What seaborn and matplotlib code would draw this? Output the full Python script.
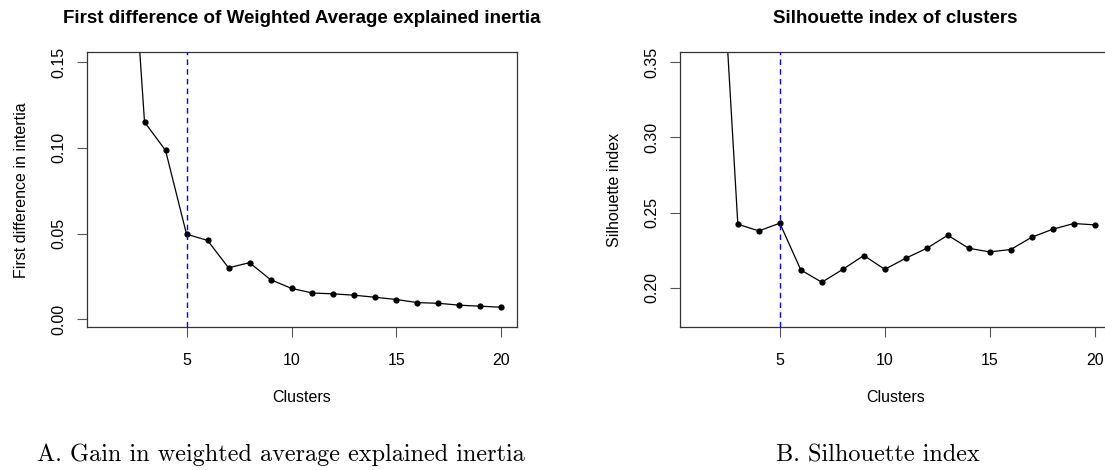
import numpy as np
import pandas as pd
import matplotlib
matplotlib.use("Agg")
import matplotlib.pyplot as plt
import seaborn as sns

# values (k = 2 is above the visible range in both)
clusters = list(range(2, 21))
inertia_diff = [0.296, 0.115, 0.0985, 0.0496, 0.046, 0.030, 0.033, 0.0231, 0.018,
                0.0153, 0.0148, 0.014, 0.0128, 0.0115, 0.0097, 0.0093, 0.0082, 0.0076, 0.007]
silhouette = [0.482, 0.2422, 0.2378, 0.2429, 0.2118, 0.2036, 0.2122, 0.2214, 0.2122,
              0.2196, 0.2262, 0.2349, 0.2262, 0.2238, 0.2254, 0.2336, 0.2389, 0.2427, 0.2418]
best_k = 5

df = pd.DataFrame({'Clusters': clusters, 'inertia': inertia_diff, 'silhouette': silhouette})

sns.set_style('white')
plt.rcParams['font.family'] = ['Liberation Sans', 'DejaVu Sans']
plt.rcParams['text.color'] = 'black'
plt.rcParams['axes.labelcolor'] = 'black'
plt.rcParams['xtick.color'] = 'black'
plt.rcParams['ytick.color'] = 'black'

fig = plt.figure(figsize=(11.05, 4.70), dpi=100)
W, H = 1105, 470
ax1 = fig.add_axes([87 / W, 1 - 327.3 / H, 430 / W, 275 / H])
ax2 = fig.add_axes([680.3 / W, 1 - 327.3 / H, 430 / W, 275 / H])

def r_style(ax, col, title, ylabel, ylim, yticks):
    sns.lineplot(data=df, x='Clusters', y=col, ax=ax, color='black', linewidth=0.9,
                 marker='o', markersize=4.5, markeredgewidth=0, markerfacecolor='black')
    ax.axvline(best_k, color='blue', linestyle=(0, (4, 3)), linewidth=1.0, zorder=3)
    ax.set_xlim(0.26, 20.74)
    ax.set_ylim(*ylim)
    ax.set_xticks([5, 10, 15, 20])
    ax.set_yticks(yticks)
    ax.set_yticklabels([f'{v:.2f}' for v in yticks], rotation=90, va='center')
    ax.tick_params(axis='both', direction='out', length=7.2, width=0.8, color='#555555',
                   labelcolor='black', labelsize=11.5, left=True, bottom=True)
    ax.tick_params(axis='x', pad=11)
    ax.tick_params(axis='y', pad=8)
    for s in ax.spines.values():
        s.set_visible(True)
        s.set_color('#333333')
        s.set_linewidth(0.9)
    ax.set_title(title, fontsize=13.5, fontweight='bold', pad=21, color='black')
    ax.set_xlabel('Clusters', fontsize=11.5, labelpad=16)
    ax.set_ylabel(ylabel, fontsize=11.5, labelpad=16)

r_style(ax1, 'inertia', 'First difference of Weighted Average explained inertia',
        'First difference in intertia', (-0.0047, 0.1557), [0.00, 0.05, 0.10, 0.15])
r_style(ax2, 'silhouette', 'Silhouette index of clusters',
        'Silhouette index', (0.1736, 0.3567), [0.20, 0.25, 0.30, 0.35])

fig.text(37 / W, 1 - 455 / H, 'A. Gain in weighted average explained inertia',
         family='cmr10', fontsize=17.5, va='center', ha='left')
fig.text(776 / W, 1 - 455 / H, 'B. Silhouette index',
         family='cmr10', fontsize=17.5, va='center', ha='left')

fig.savefig('out.png', dpi=100)
